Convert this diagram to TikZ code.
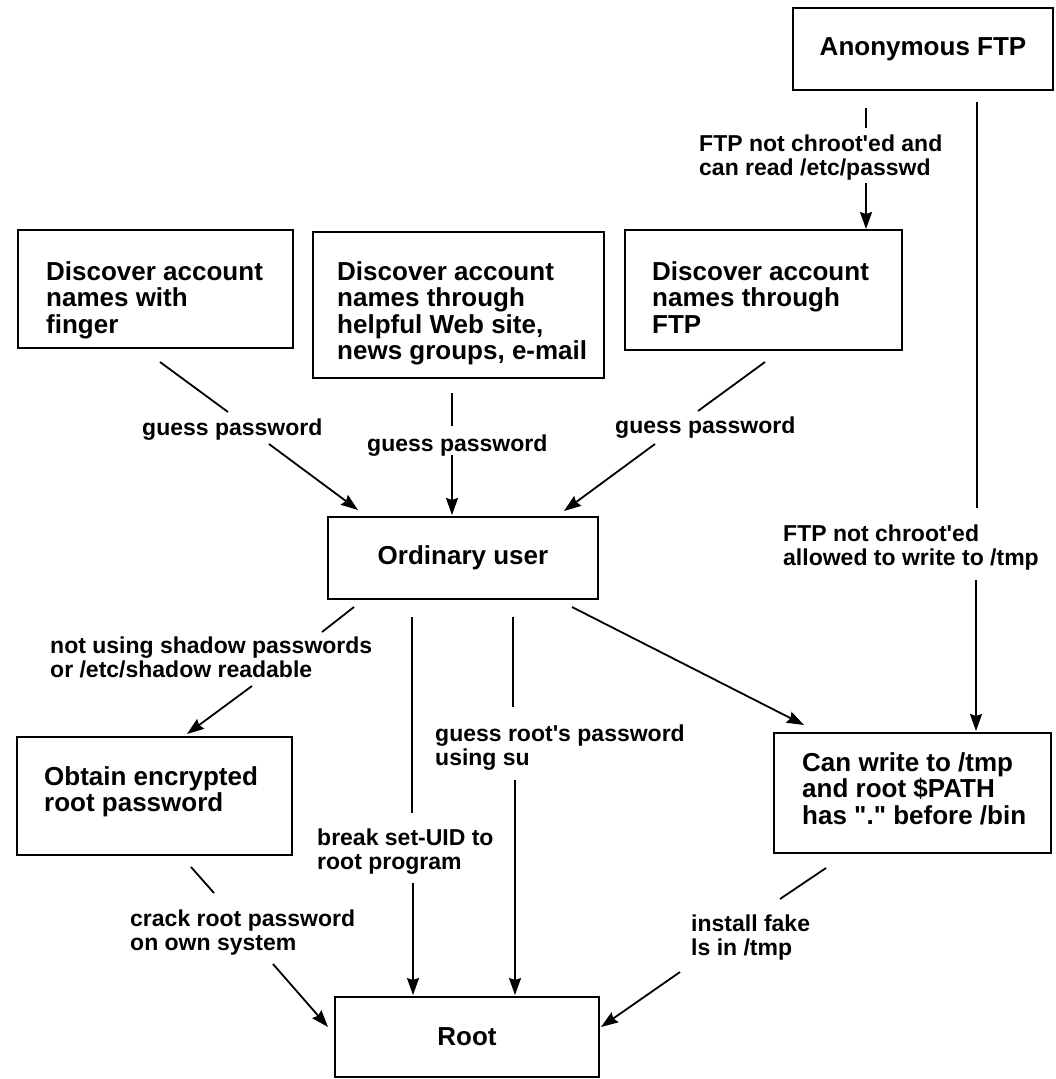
\documentclass[tikz,border=0pt]{standalone}
\usepackage{fontspec}
\setmainfont{Liberation Sans}
\usetikzlibrary{arrows.meta,calc}
\begin{document}
\begin{tikzpicture}[x=1pt,y=-1pt,
  box/.style={draw, line width=2pt, inner sep=0pt},
  boxfont/.style={font=\fontsize{26}{26.5}\selectfont\bfseries},
  boxtext/.style={boxfont, align=left, inner sep=0pt, anchor=north west},
  lbl/.style={font=\fontsize{23}{24}\selectfont\bfseries, align=left, inner sep=0pt, anchor=north west},
  ln/.style={line width=1.8pt},
  arr/.style={line width=1.8pt, -{Stealth[length=17pt,width=12pt,inset=2pt]}}
]
\useasboundingbox (0,0) rectangle (1055,1079);

% boxes
\node[box, boxfont, minimum width=260pt, minimum height=82pt] (anon) at (923,49) {Anonymous FTP};
\node[box, minimum width=275pt, minimum height=118pt] (finger) at (155.5,289) {};
\node[boxtext] (fingert) at ($(finger.north west)+(29,32)$) {Discover account\\names with\\finger};
\node[box, minimum width=291pt, minimum height=146pt] (web) at (458.5,305) {};
\node[boxtext] (webt) at ($(web.north west)+(25,30)$) {Discover account\\names through\\helpful Web site,\\news groups, e-mail};
\node[box, minimum width=277pt, minimum height=120pt] (ftpb) at (763.5,290) {};
\node[boxtext] (ftpbt) at ($(ftpb.north west)+(28,32)$) {Discover account\\names through\\FTP};
\node[box, boxfont, minimum width=270pt, minimum height=82pt] (user) at (463,558) {Ordinary user};
\node[box, minimum width=275pt, minimum height=118pt] (obtain) at (154.5,796) {};
\node[boxtext] (obtaint) at ($(obtain.north west)+(28,30)$) {Obtain encrypted\\root password};
\node[box, minimum width=277pt, minimum height=120pt] (canw) at (912.5,793) {};
\node[boxtext] (canwt) at ($(canw.north west)+(29,20)$) {Can write to /tmp\\and root \$PATH\\has \textquotedbl.\textquotedbl\ before /bin};
\node[box, boxfont, minimum width=264pt, minimum height=80pt] (root) at (467,1037) {Root};

% labels
\node[lbl] (l1) at (699,135) {FTP not chroot\textquotesingle ed and\\can read /etc/passwd};
\node[lbl] (l2) at (142,419) {guess password};
\node[lbl] (l3) at (367,435) {guess password};
\node[lbl] (l4) at (615,417) {guess password};
\node[lbl] (l5) at (783,525) {FTP not chroot\textquotesingle ed\\allowed to write to /tmp};
\node[lbl] (l6) at (50,637) {not using shadow passwords\\or /etc/shadow readable};
\node[lbl] (l7) at (435,725) {guess root\textquotesingle s password\\using su};
\node[lbl] (l8) at (317,829) {break set-UID to\\root program};
\node[lbl] (l9) at (130,910) {crack root password\\on own system};
\node[lbl] (l10) at (691,915) {install fake\\ls in /tmp};

% connector end points
\coordinate (a1) at (866,108);  \coordinate (a2) at (866,128);
\coordinate (a3) at (866,183);  \coordinate (a4) at (866,229);
\coordinate (b1) at (977,102);  \coordinate (b2) at (977,508);
\coordinate (b3) at (976,580);  \coordinate (b4) at (976,731);
\coordinate (c1) at (160,362);  \coordinate (c2) at (228,412);
\coordinate (c3) at (269,444);  \coordinate (c4) at (358,510);
\coordinate (d1) at (452,393);  \coordinate (d2) at (452,426);
\coordinate (d3) at (452,455);  \coordinate (d4) at (452,515);
\coordinate (e1) at (765,362);  \coordinate (e2) at (698,411);
\coordinate (e3) at (655,444);  \coordinate (e4) at (564,511);
\coordinate (f1) at (354,607);  \coordinate (f2) at (322,632);
\coordinate (f3) at (252,686);  \coordinate (f4) at (187,734);
\coordinate (g1) at (412,617);  \coordinate (g2) at (412,813);
\coordinate (g3) at (413,883);  \coordinate (g4) at (413,995);
\coordinate (h1) at (513,617);  \coordinate (h2) at (513,707);
\coordinate (h3) at (515,780);  \coordinate (h4) at (515,995);
\coordinate (i1) at (572,607);  \coordinate (i4) at (804,725);
\coordinate (j1) at (191,867);  \coordinate (j2) at (214,893);
\coordinate (j3) at (273,964);  \coordinate (j4) at (328,1027);
\coordinate (k1) at (826,868);  \coordinate (k2) at (780,899);
\coordinate (k3) at (680,972);  \coordinate (k4) at (601,1027);

% connectors
\draw[ln] (a1) -- (a2);  \draw[arr] (a3) -- (a4);
\draw[ln] (b1) -- (b2);  \draw[arr] (b3) -- (b4);
\draw[ln] (c1) -- (c2);  \draw[arr] (c3) -- (c4);
\draw[ln] (d1) -- (d2);  \draw[arr] (d3) -- (d4);
\draw[ln] (e1) -- (e2);  \draw[arr] (e3) -- (e4);
\draw[ln] (f1) -- (f2);  \draw[arr] (f3) -- (f4);
\draw[ln] (g1) -- (g2);  \draw[arr] (g3) -- (g4);
\draw[ln] (h1) -- (h2);  \draw[arr] (h3) -- (h4);
\draw[arr] (i1) -- (i4);
\draw[ln] (j1) -- (j2);  \draw[arr] (j3) -- (j4);
\draw[ln] (k1) -- (k2);  \draw[arr] (k3) -- (k4);
\end{tikzpicture}
\end{document}
